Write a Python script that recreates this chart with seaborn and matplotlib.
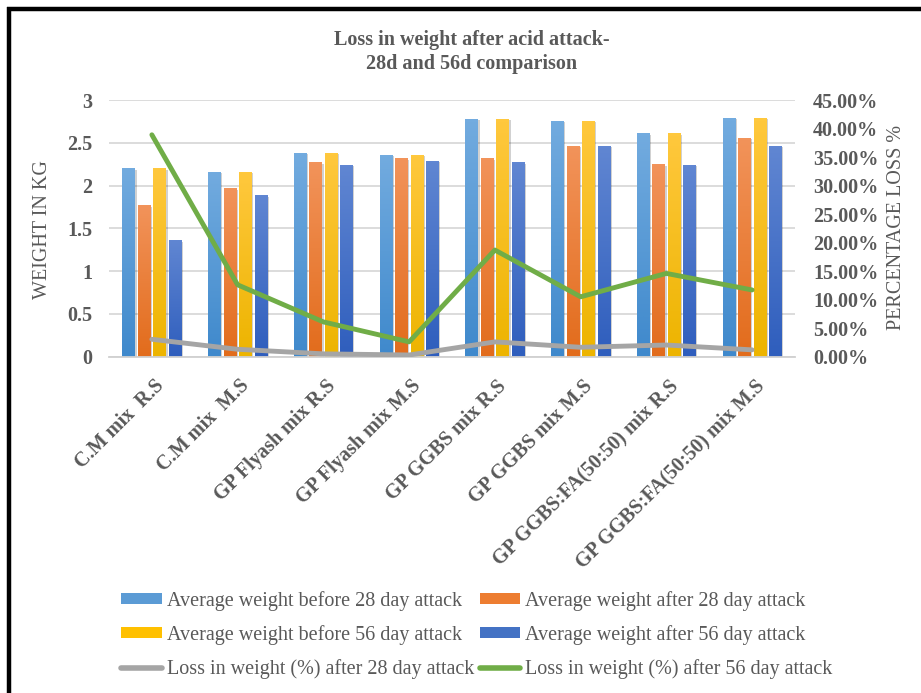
import numpy as np
import pandas as pd
import matplotlib
matplotlib.use("Agg")
import matplotlib.pyplot as plt
import seaborn as sns
from matplotlib.colors import LinearSegmentedColormap
from matplotlib.patches import Patch
from matplotlib.lines import Line2D
from matplotlib.ticker import FuncFormatter, MultipleLocator
from matplotlib.transforms import ScaledTranslation
import matplotlib.patheffects as pe

# ---- data -------------------------------------------------------------
categories = [
    "C.M mix  R.S", "C.M mix  M.S", "GP Flyash mix R.S", "GP Flyash mix M.S",
    "GP GGBS mix R.S", "GP GGBS mix M.S", "GP GGBS:FA(50:50) mix R.S",
    "GP GGBS:FA(50:50) mix M.S",
]
before_28 = [2.20, 2.16, 2.38, 2.36, 2.78, 2.76, 2.61, 2.79]
after_28 = [1.77, 1.97, 2.27, 2.32, 2.32, 2.465, 2.25, 2.56]
before_56 = [2.20, 2.16, 2.38, 2.36, 2.78, 2.76, 2.61, 2.79]
after_56 = [1.36, 1.885, 2.24, 2.29, 2.27, 2.465, 2.24, 2.465]
loss_28 = [3.05, 1.3, 0.5, 0.3, 2.6, 1.65, 2.05, 1.2]        # percent
loss_56 = [38.9, 12.6, 6.1, 2.6, 18.7, 10.5, 14.6, 11.7]     # percent

bar_series = [
    "Average weight before 28 day attack",
    "Average weight after 28 day attack",
    "Average weight before 56 day attack",
    "Average weight after 56 day attack",
]
line_series = [
    "Loss in weight (%) after 28 day attack",
    "Loss in weight (%) after 56 day attack",
]

# ---- style --------------------------------------------------------------
sns.set_theme(style="white")
plt.rcParams["font.family"] = ["Liberation Serif", "DejaVu Serif"]
TXT = "#595959"
bar_mid = ["#5B9BD5", "#ED7D31", "#FFC000", "#4472C4"]
bar_grad = [("#72ABDF", "#3F89CC"), ("#F2935A", "#E26C1C"),
            ("#FFC83D", "#EDB400"), ("#6086D2", "#2F5EBD")]
line_cols = ["#A5A5A5", "#70AD47"]

df = pd.DataFrame({"category": categories,
                   bar_series[0]: before_28, bar_series[1]: after_28,
                   bar_series[2]: before_56, bar_series[3]: after_56})
long = df.melt(id_vars="category", var_name="series", value_name="weight")

W, H = 921, 693
fig = plt.figure(figsize=(W / 100, H / 100), dpi=100)
ax = fig.add_axes([109 / W, 1 - 356.7 / H, 686 / W, 256.7 / H])

sns.barplot(data=long, x="category", y="weight", hue="series",
            order=categories, hue_order=bar_series, palette=bar_mid,
            width=0.72, gap=0.19, errorbar=None, legend=False,
            saturation=1, ax=ax, zorder=2)

# vertical gradient fill on every bar
grad = np.linspace(0, 1, 64)[:, None]
for cont, (ctop, cbot) in zip(ax.containers, bar_grad):
    cmap = LinearSegmentedColormap.from_list("g", [cbot, ctop])
    for bar in cont:
        x0, w, h = bar.get_x(), bar.get_width(), bar.get_height()
        bar.set_edgecolor("none")
        bar.set_path_effects([pe.SimplePatchShadow(offset=(1.2, -1.0),
                                                   shadow_rgbFace="#000000",
                                                   alpha=0.18),
                              pe.Normal()])
        im = ax.imshow(grad, extent=(x0, x0 + w, 0, h), origin="lower",
                       cmap=cmap, aspect="auto", zorder=2.5,
                       interpolation="bilinear")
        im.set_clip_path(bar)

ax.set_xlim(-0.5, len(categories) - 0.5)
ax.set_ylim(0, 3)
ax.yaxis.set_major_locator(MultipleLocator(0.5))
ax.yaxis.set_major_formatter(FuncFormatter(lambda v, p: f"{v:g}"))
ax.yaxis.grid(True, color="#D9D9D9", lw=1.3)
ax.set_axisbelow(True)
for s in ["top", "right", "left"]:
    ax.spines[s].set_visible(False)
ax.spines["bottom"].set_color("#D0D0D0")
ax.spines["bottom"].set_linewidth(1.3)

ax.set_xlabel("")
ax.set_ylabel("WEIGHT IN KG", fontsize=14.5, color=TXT, va="center")
ax.yaxis.set_label_coords((42 - 109) / 686, (356.7 - 230) / 256.7)
ax.tick_params(axis="y", length=0, pad=12, labelsize=14.5, labelcolor=TXT)
for t in ax.get_yticklabels():
    t.set_fontweight("bold")

ax.set_xticks(range(len(categories)))
ax.set_xticklabels(categories, rotation=45, ha="right", va="center",
                   rotation_mode="anchor", fontsize=14.5, fontweight="bold",
                   color=TXT)
ax.tick_params(axis="x", length=0, pad=19)
shift = ScaledTranslation(9 / 100, 0, fig.dpi_scale_trans)
for t in ax.get_xticklabels():
    t.set_transform(t.get_transform() + shift)

# secondary axis with the percentage loss lines
ax2 = ax.twinx()
x = np.arange(len(categories))
sns.lineplot(x=x, y=np.array(loss_28) / 100, color=line_cols[0], lw=3.5,
             ax=ax2, solid_capstyle="round", solid_joinstyle="round")
sns.lineplot(x=x, y=np.array(loss_56) / 100, color=line_cols[1], lw=3.5,
             ax=ax2, solid_capstyle="round", solid_joinstyle="round")
ax2.set_ylim(0, 0.45)
ax2.set_xlim(-0.5, len(categories) - 0.5)
ax2.yaxis.set_major_locator(MultipleLocator(0.05))
ax2.yaxis.set_major_formatter(FuncFormatter(lambda v, p: f"{v * 100:.2f}%"))
ax2.tick_params(axis="y", length=0, pad=13, labelsize=14.5, labelcolor=TXT)
for t in ax2.get_yticklabels():
    t.set_fontweight("bold")
for s in ax2.spines.values():
    s.set_visible(False)
ax2.grid(False)
ax2.set_ylabel("PERCENTAGE LOSS %", fontsize=14.5, color=TXT, rotation=90,
               va="center")
ax2.yaxis.set_label_coords((897 - 109) / 686, (356.7 - 227) / 256.7)

# title
fig.text(472 / W, 1 - 52 / H,
         "Loss in weight after acid attack-\n28d and 56d comparison",
         ha="center", va="center", fontsize=14.5, fontweight="bold",
         color=TXT, linespacing=1.2)

# legend, filled row by row
handles = [Patch(facecolor=c, edgecolor="none") for c in bar_mid]
handles += [Line2D([0], [0], color=c, lw=4, solid_capstyle="round")
            for c in line_cols]
labels = bar_series + line_series
order = [0, 2, 4, 1, 3, 5]
fig.legend([handles[i] for i in order], [labels[i] for i in order],
           loc="center", bbox_to_anchor=(477 / W, 1 - 635 / H),
           ncol=2, frameon=False, fontsize=14.5, labelcolor=TXT,
           handlelength=2.0, handleheight=0.45, handletextpad=0.25,
           columnspacing=0.3, labelspacing=0.72)

# black frame on the top and left edges
fig.add_artist(Line2D([7 / W, 1], [1 - 9 / H, 1 - 9 / H], color="black",
                      lw=3.2, transform=fig.transFigure,
                      solid_capstyle="butt"))
fig.add_artist(Line2D([9 / W, 9 / W], [0, 1 - 7 / H], color="black",
                      lw=3.2, transform=fig.transFigure,
                      solid_capstyle="butt"))

fig.savefig("out.png", dpi=100, facecolor="white")
